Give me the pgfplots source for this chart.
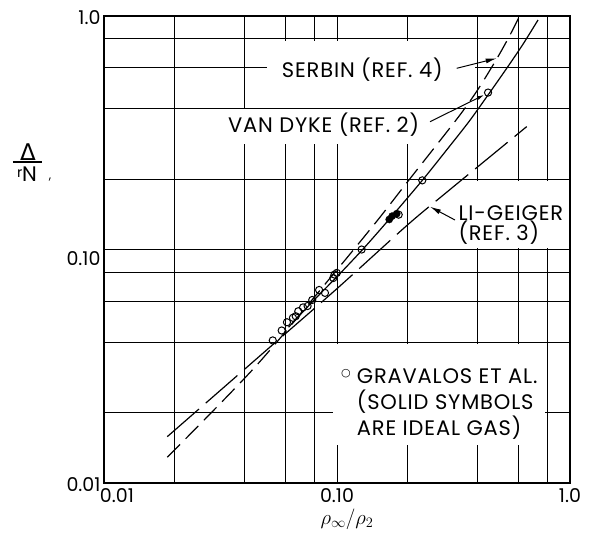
\documentclass[border=0pt]{standalone}
\usepackage{fontspec}
\setmainfont{Poppins}
\newfontfamily\lab{Poppins}[LetterSpace=4]
\newfontfamily\greek{DejaVu Sans}
\usepackage{pgfplots}
\pgfplotsset{compat=1.18}
\usetikzlibrary{arrows.meta}

\begin{document}
\begin{tikzpicture}
\useasboundingbox (-104pt,-56pt) rectangle (493pt,483pt);
\begin{axis}[
  at={(0pt,0pt)}, anchor=south west,
  scale only axis, width=466pt, height=467pt,
  xmode=log, ymode=log,
  xmin=0.01, xmax=1, ymin=0.01, ymax=1,
  xtick={0.01,0.1,1}, ytick={0.01,0.1,1},
  minor xtick={0.02,0.04,0.06,0.08,0.2,0.4,0.6,0.8},
  minor ytick={0.02,0.04,0.06,0.08,0.2,0.4,0.6,0.8},
  grid=both,
  major grid style={black, line width=0.9pt},
  minor grid style={black, line width=0.9pt},
  major tick length=0pt, minor tick length=0pt,
  axis line style={black, line width=1.1pt},
  xticklabels={\rlap{\hspace{-4pt}0.01},0.10,1.0},
  yticklabels={\raisebox{-8.65pt}[0pt][0pt]{0.01},\raisebox{-15.65pt}[0pt][0pt]{0.10},\raisebox{-8.15pt}[0pt][0pt]{1.0}},
  ticklabel style={font=\fontsize{19}{19}\selectfont},
  xticklabel style={anchor=north, yshift=-2.4pt},
  yticklabel style={anchor=east},
]
% white label boxes that interrupt the grid
\fill[white] (rel axis cs:0.3498,0.795) rectangle (rel axis cs:0.797,0.947);
\fill[white] (rel axis cs:0.2532,0.726) rectangle (rel axis cs:0.7232,0.80);
\fill[white] (rel axis cs:0.7468,0.504) rectangle (rel axis cs:0.9957,0.646);
\fill[white] (rel axis cs:0.4914,0.0814) rectangle (rel axis cs:0.947,0.297);
\draw[black, line width=0.9pt] (axis cs:0.01,0.4) -- (axis cs:1,0.4);

% Li-Geiger (Ref. 3)
\addplot[black, line width=1.2pt, dash pattern=on 42pt off 9pt, smooth] coordinates {
(0.0187,0.0158) (0.05,0.0372) (0.1,0.068) (0.2,0.127) (0.3,0.178) (0.45,0.248) (0.652,0.336)};
% Serbin (Ref. 4)
\addplot[black, line width=1.2pt, dash pattern=on 18pt off 8pt, smooth] coordinates {
(0.0187,0.0129) (0.0445,0.0314) (0.0948,0.0768) (0.148,0.132) (0.2,0.194) (0.3264,0.3614) (0.4,0.48) (0.4846,0.655) (0.55,0.821) (0.604,0.987)};
% Van Dyke (Ref. 2)
\addplot[black, line width=1.2pt, smooth] coordinates {
(0.062,0.0465) (0.08,0.061) (0.1,0.0765) (0.13,0.101) (0.17,0.137) (0.2323,0.1978) (0.3,0.272) (0.37,0.355) (0.4527,0.4704) (0.543,0.61) (0.63,0.76) (0.729,0.961)};
% Gravalos et al.
\addplot[only marks, mark=o, mark size=3.6pt, mark options={line width=1pt}] coordinates {
(0.0530,0.0408) (0.0579,0.0450) (0.0610,0.0488) (0.0647,0.0510) (0.0665,0.0518) (0.0682,0.0544) (0.0715,0.0565) (0.0748,0.0573) (0.0783,0.0608) (0.0838,0.0671) (0.0888,0.0652) (0.0964,0.0755) (0.0976,0.0781) (0.0998,0.0794) (0.1276,0.1000) (0.184,0.141) (0.2323,0.1978) (0.445,0.470)};
\addplot[only marks, mark=*, mark size=3.6pt] coordinates {
(0.1676,0.1345) (0.1725,0.139) (0.1804,0.1423)};
\end{axis}

% labels
\node[anchor=base west, inner sep=0pt] at (177.7pt,405.7pt) {\lab\fontsize{21}{21}\selectfont SERBIN (REF. 4)};
\node[anchor=base west, inner sep=0pt] at (124pt,350.7pt) {\lab\fontsize{21}{21}\selectfont VAN DYKE (REF. 2)};
\node[anchor=base west, inner sep=0pt] at (354.3pt,263pt) {\lab\fontsize{21}{21}\selectfont LI-GEIGER};
\node[anchor=base west, inner sep=0pt] at (354.3pt,243pt) {\lab\fontsize{21}{21}\selectfont (REF. 3)};
\node[anchor=center, inner sep=0pt] at (242pt,109pt) {\greek\fontsize{11}{11}\selectfont ○};
\node[anchor=base west, inner sep=0pt] at (252.7pt,99.7pt) {\lab\fontsize{21}{21}\selectfont GRAVALOS ET AL.};
\node[anchor=base west, inner sep=0pt] at (252.7pt,73.5pt) {\lab\fontsize{21}{21}\selectfont (SOLID SYMBOLS};
\node[anchor=base west, inner sep=0pt] at (252.7pt,47.2pt) {\lab\fontsize{21}{21}\selectfont ARE IDEAL GAS)};

% arrows
\draw[black, line width=1pt, -{Latex[length=11pt,width=5pt]}] (352.7pt,414.7pt) -- (392.7pt,424.7pt);
\draw[black, line width=1pt, -{Latex[length=7pt,width=4pt]}] (326pt,361.3pt) -- (380pt,388pt);
\draw[black, line width=1pt, -{Latex[length=11pt,width=5pt]}] (351pt,263pt) -- (326pt,276.3pt);

% y label
\node[inner sep=0pt] at (-76pt,331pt) {\greek\fontsize{23}{23}\selectfont Δ};
\draw[black, line width=1.4pt] (-91pt,321pt) -- (-62pt,321pt);
\node[inner sep=0pt] at (-77pt,308.5pt) {\fontsize{21}{21}\selectfont\raisebox{4.5pt}{\fontsize{14}{14}\selectfont r}N};
\node[inner sep=0pt] at (-54pt,303pt) {\fontsize{12}{12}\selectfont ,};
% x label
\node[inner sep=0pt] at (243pt,-36pt) {\fontsize{21}{21}\selectfont $\rho_{\infty}/\rho_{2}$};
\end{tikzpicture}
\end{document}
